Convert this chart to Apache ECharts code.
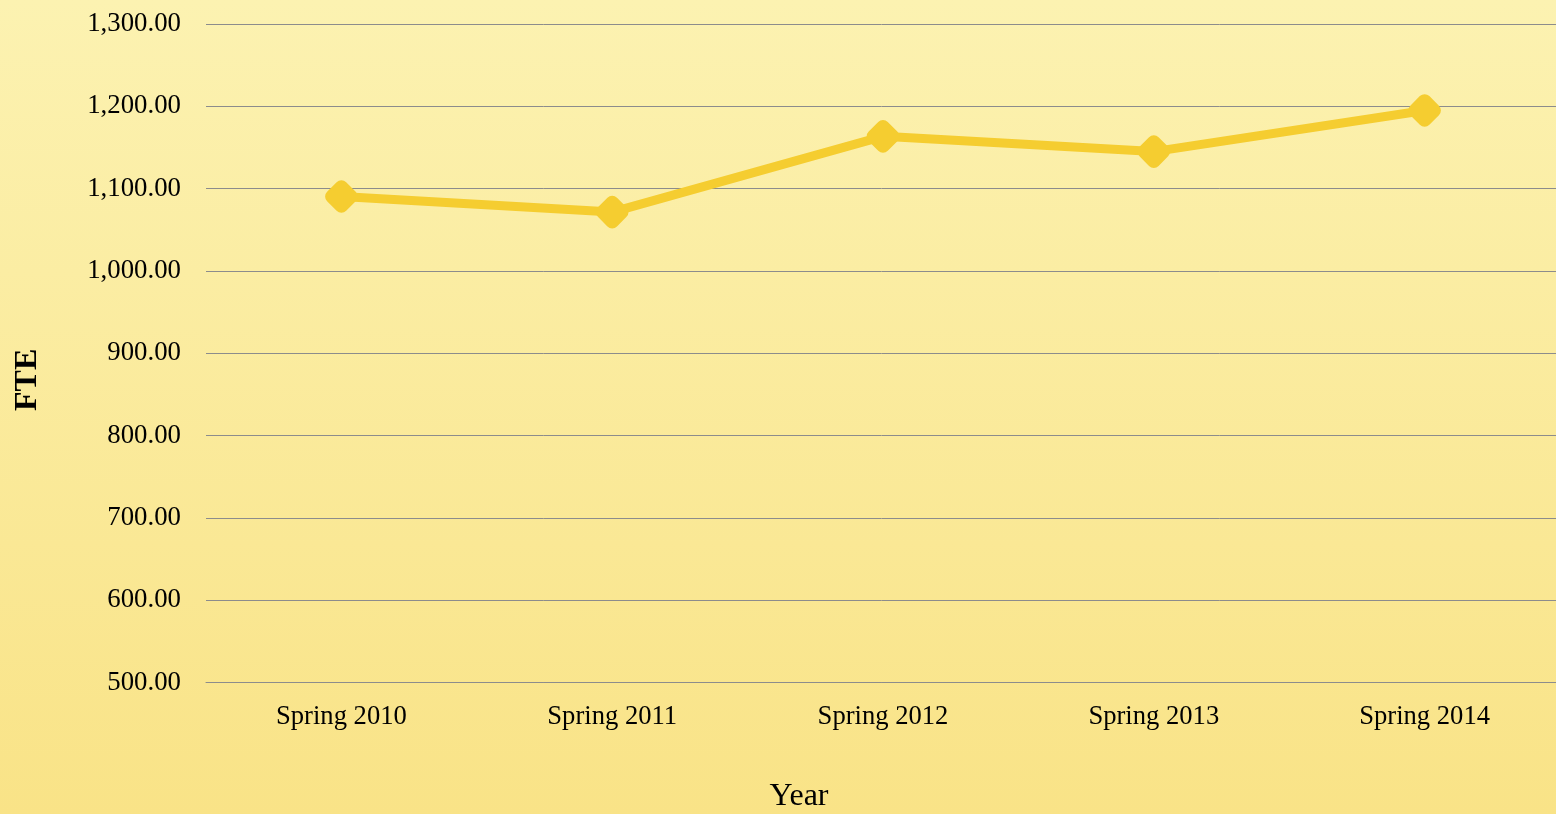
<!DOCTYPE html>
<html>
<head>
<meta charset="utf-8">
<script src="https://cdn.jsdelivr.net/npm/echarts@6/dist/echarts.min.js"></script>
<style>
html,body{margin:0;padding:0;width:1556px;height:814px;overflow:hidden;}
#chart{width:1556px;height:814px;}
</style>
</head>
<body>
<div id="chart"></div>
<script>
const categories = ['Spring 2010', 'Spring 2011', 'Spring 2012', 'Spring 2013', 'Spring 2014'];
const fteValues = [1090.5, 1071.5, 1163.5, 1145, 1195];
const yMin = 500, yMax = 1300, yStep = 100;
const xAxisTitle = 'Year';
const yAxisTitle = 'FTE';

const chart = echarts.init(document.getElementById('chart'));
const serif = '"Liberation Serif", "DejaVu Serif", serif';
chart.setOption({
  animation: false,
  backgroundColor: {
    type: 'linear', x: 0, y: 0, x2: 0, y2: 1,
    colorStops: [{offset: 0, color: '#FCF2B1'}, {offset: 1, color: '#F9E387'}]
  },
  grid: {left: 206, top: 24, width: 1354, height: 658.5, containLabel: false, outerBoundsMode: 'none'},
  graphic: [
    {type: 'text', x: 799, y: 797, style: {text: xAxisTitle, font: '32px ' + serif, fill: '#000', textAlign: 'center', textVerticalAlign: 'middle'}},
    {type: 'text', rotation: Math.PI / 2, x: 12, y: 411, style: {text: yAxisTitle, font: 'bold 32px ' + serif, fill: '#000'}}
  ],
  xAxis: {
    type: 'category',
    data: categories,
    boundaryGap: true,
    axisLine: {show: true, lineStyle: {color: '#8c8c8c', width: 1}},
    axisTick: {show: false},
    axisLabel: {color: '#000', fontFamily: serif, fontSize: 26.6, margin: 21}
  },
  yAxis: {
    type: 'value',
    min: yMin, max: yMax, interval: yStep,
    axisLine: {show: false},
    axisTick: {show: false},
    splitLine: {show: true, lineStyle: {color: '#8c8c8c', width: 1}},
    axisLabel: {
      color: '#000', fontFamily: serif, fontSize: 26.8, margin: 25,
      formatter: v => v.toLocaleString('en-US', {minimumFractionDigits: 2, maximumFractionDigits: 2})
    }
  },
  series: [{
    type: 'line',
    data: fteValues,
    lineStyle: {color: '#F5CD30', width: 9},
    itemStyle: {color: '#F5CD30'},
    symbol: 'roundRect',
    symbolRotate: 45,
    symbolSize: 27,
    showAllSymbol: true
  }]
});
</script>
</body>
</html>
